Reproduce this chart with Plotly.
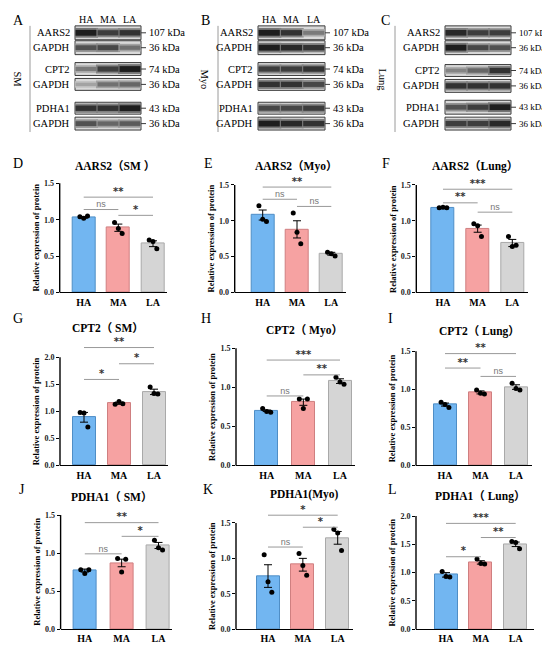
import plotly.graph_objects as go

W, H = 550, 645
FONT = "Liberation Serif, Noto Sans CJK SC"

groups = ["HA", "MA", "LA"]
bar_colors = ["#72b6f1", "#f6a2a2", "#d5d5d5"]
bar_edges = ["#4f8ec6", "#cf7f80", "#a9a9a9"]

# western blot rows and band intensities (0 = blank, 1 = very dark)
blot_rows = ["AARS2", "GAPDH", "CPT2", "GAPDH", "PDHA1", "GAPDH"]
blot_kda = ["107 kDa", "36 kDa", "74 kDa", "36 kDa", "43 kDa", "36 kDa"]
blot_sm = [[0.95, 0.80, 0.85], [0.70, 0.75, 0.55], [0.50, 0.80, 0.95],
           [0.30, 0.55, 0.60], [0.85, 0.85, 0.95], [0.70, 0.60, 0.65]]
blot_myo = [[0.95, 0.85, 0.50], [0.95, 0.90, 0.85], [0.80, 0.80, 0.85],
            [0.85, 0.85, 0.75], [0.75, 0.75, 0.80], [0.95, 0.90, 0.85]]
blot_lung = [[0.90, 0.80, 0.80], [0.95, 0.75, 0.70], [0.45, 0.60, 0.85],
             [0.85, 0.85, 0.85], [0.70, 0.80, 0.95], [0.80, 0.80, 0.90]]

# bar panels: means, SEM, individual points, significance brackets
aars2_sm_mean = [1.03, 0.89, 0.67]
aars2_sm_sem = [0.01, 0.05, 0.04]
aars2_sm_pts = [[1.04, 1.02, 1.05], [0.96, 0.88, 0.81], [0.72, 0.70, 0.60]]
aars2_sm_sig = [(0, 1, 1.14, "ns"), (1, 2, 1.06, "*"), (0, 2, 1.31, "**")]

aars2_myo_mean = [1.08, 0.88, 0.54]
aars2_myo_sem = [0.07, 0.12, 0.02]
aars2_myo_pts = [[1.21, 1.02, 0.99], [1.11, 0.84, 0.68], [0.56, 0.54, 0.51]]
aars2_myo_sig = [(0, 1, 1.30, "ns"), (1, 2, 1.20, "ns"), (0, 2, 1.47, "**")]

aars2_lung_mean = [1.18, 0.89, 0.69]
aars2_lung_sem = [0.01, 0.05, 0.05]
aars2_lung_pts = [[1.18, 1.19, 1.18], [0.96, 0.93, 0.78], [0.78, 0.64, 0.66]]
aars2_lung_sig = [(0, 1, 1.25, "**"), (1, 2, 1.12, "ns"), (0, 2, 1.44, "***")]

cpt2_sm_mean = [0.89, 1.15, 1.36]
cpt2_sm_sem = [0.09, 0.02, 0.05]
cpt2_sm_pts = [[0.98, 0.97, 0.71], [1.13, 1.18, 1.14], [1.45, 1.33, 1.32]]
cpt2_sm_sig = [(0, 1, 1.59, "*"), (1, 2, 1.88, "*"), (0, 2, 2.18, "**")]

cpt2_myo_mean = [0.70, 0.81, 1.08]
cpt2_myo_sem = [0.01, 0.04, 0.03]
cpt2_myo_pts = [[0.73, 0.69, 0.68], [0.85, 0.73, 0.85], [1.13, 1.07, 1.04]]
cpt2_myo_sig = [(0, 1, 0.89, "ns"), (1, 2, 1.16, "**"), (0, 2, 1.35, "***")]

cpt2_lung_mean = [0.80, 0.96, 1.03]
cpt2_lung_sem = [0.02, 0.02, 0.03]
cpt2_lung_pts = [[0.83, 0.80, 0.76], [0.99, 0.95, 0.94], [1.08, 1.01, 0.99]]
cpt2_lung_sig = [(0, 1, 1.28, "**"), (1, 2, 1.17, "ns"), (0, 2, 1.47, "**")]

pdha1_sm_mean = [0.77, 0.87, 1.10]
pdha1_sm_sem = [0.02, 0.05, 0.04]
pdha1_sm_pts = [[0.78, 0.73, 0.78], [0.93, 0.75, 0.92], [1.17, 1.07, 1.04]]
pdha1_sm_sig = [(0, 1, 0.99, "ns"), (1, 2, 1.22, "*"), (0, 2, 1.40, "**")]

pdha1_myo_mean = [0.75, 0.91, 1.29]
pdha1_myo_sem = [0.16, 0.09, 0.09]
pdha1_myo_pts = [[1.05, 0.67, 0.52], [1.07, 0.90, 0.76], [1.41, 1.36, 1.11]]
pdha1_myo_sig = [(0, 1, 1.16, "ns"), (1, 2, 1.44, "*"), (0, 2, 1.61, "*")]

pdha1_lung_mean = [0.96, 1.18, 1.50]
pdha1_lung_sem = [0.04, 0.03, 0.04]
pdha1_lung_pts = [[1.02, 0.93, 0.92], [1.24, 1.16, 1.15], [1.55, 1.53, 1.42]]
pdha1_lung_sig = [(0, 1, 1.28, "*"), (1, 2, 1.62, "**"), (0, 2, 1.87, "***")]


def px(p):
    return p / W


def py(p):
    return 1 - p / H


fig = go.Figure()
layout = {}
shapes = []
annots = []


def note(x, y, text, size, xanchor="center", yanchor="middle", angle=0, color="black"):
    annots.append(dict(x=px(x), y=py(y), xref="paper", yref="paper", text=text,
                       showarrow=False, xanchor=xanchor, yanchor=yanchor, textangle=angle,
                       font=dict(family=FONT, size=size, color=color)))


def grey(v):
    g = int(225 - 205 * v)
    return "rgb(%d,%d,%d)" % (g, g, g)


# ---- western blots ----
rows_ab = [(18, 32), (33, 47), (55, 68), (71, 83), (95, 107), (110, 123)]
rows_c = [(18, 32), (33, 47), (57, 69), (72, 85), (93, 107), (110, 123)]
blots = [
    # letter, tissue, data, box left/right, rows, letter x, tissue x, line x, lanes shown, kDa size
    ("A", "SM", blot_sm, 67, 133, rows_ab, 10, 10, 22, True, 10.5),
    ("B", "Myo", blot_myo, 250, 317, rows_ab, 197, 197, 210, True, 10.5),
    ("C", "Lung", blot_lung, 437, 503, rows_c, 377, 375, 387, False, 9),
]

for k, (letter, tissue, data, bl, br, rows, lx, tx, vx, lanes, ksz) in enumerate(blots):
    ax = 10 + k
    layout["xaxis%d" % ax] = dict(domain=[px(bl), px(br)], range=[-0.5, 2.5], visible=False,
                                  anchor="y%d" % ax, fixedrange=True)
    layout["yaxis%d" % ax] = dict(domain=[py(125), py(16)], range=[125, 16], visible=False,
                                  anchor="x%d" % ax, fixedrange=True)
    lane = (br - bl) / 3
    for r, (top, bot) in enumerate(rows):
        mid = (top + bot) / 2
        shapes.append(dict(type="rect", xref="paper", yref="paper", x0=px(bl), x1=px(br),
                           y0=py(bot), y1=py(top), fillcolor="#d9d9d9",
                           line=dict(color="#3c3c3c", width=1), layer="below"))
        shapes.append(dict(type="line", xref="paper", yref="paper", x0=px(br), x1=px(br + 5),
                           y0=py(mid), y1=py(mid), line=dict(color="#3c3c3c", width=1)))
        vals = data[r]
        # soft halo then core of each band
        halo = [grey(0.55 * v) for v in vals]
        core = [grey(v) for v in vals]
        fig.add_trace(go.Scatter(
            x=[0, 1, 2], y=[mid] * 3, mode="markers",
            marker=dict(symbol="line-ew", size=lane * 0.78, color=halo,
                        line=dict(color=halo, width=[5 + 5 * v for v in vals])),
            xaxis="x%d" % ax, yaxis="y%d" % ax, showlegend=False, hoverinfo="skip"))
        fig.add_trace(go.Scatter(
            x=[0, 1, 2], y=[mid] * 3, mode="markers",
            marker=dict(symbol="line-ew", size=lane * 0.68, color=core,
                        line=dict(color=core, width=[2 + 4 * v for v in vals])),
            xaxis="x%d" % ax, yaxis="y%d" % ax, showlegend=False, hoverinfo="skip"))
        note(bl - 3, mid, blot_rows[r], 10.5, xanchor="right")
        note(br + 6, mid, blot_kda[r], ksz, xanchor="left")
    note(lx, 13, letter, 14)
    shapes.append(dict(type="line", xref="paper", yref="paper", x0=px(vx), x1=px(vx),
                       y0=py(18), y1=py(125), line=dict(color="#9a9a9a", width=1)))
    note(tx, 72, tissue, 10.5, angle=90)
    if lanes:
        for i, g in enumerate(groups):
            note(bl + lane * (i + 0.5), 12, g, 10)

# ---- bar panels ----
panels = [
    # letter, title, mean, sem, pts, sig,
    # axis x, first/last bar centre, axis end, y0 px, top tick px, top tick, title x/y, letter x/y
    ("D", "AARS2（SM ）", aars2_sm_mean, aars2_sm_sem, aars2_sm_pts, aars2_sm_sig,
     51.7, 75.7, 145, 159, 286.7, 176.7, 1.5, 106.7, 159, 10, 156.7),
    ("E", "AARS2（Myo）", aars2_myo_mean, aars2_myo_sem, aars2_myo_pts, aars2_myo_sig,
     226.7, 254.7, 323.3, 338, 286.7, 178.3, 1.5, 288, 159, 200, 156.7),
    ("F", "AARS2（Lung）", aars2_lung_mean, aars2_lung_sem, aars2_lung_pts, aars2_lung_sig,
     408.3, 435, 504.3, 520, 286.7, 178.3, 1.5, 466.7, 159, 378.3, 156.7),
    ("G", "CPT2（ SM）", cpt2_sm_mean, cpt2_sm_sem, cpt2_sm_pts, cpt2_sm_sig,
     52, 76, 146, 160, 461, 352, 2.0, 100, 322, 10, 313),
    ("H", "CPT2（ Myo）", cpt2_myo_mean, cpt2_myo_sem, cpt2_myo_pts, cpt2_myo_sig,
     228, 258.7, 332, 347, 461, 343, 1.5, 296, 325, 198, 313),
    ("I", "CPT2（ Lung）", cpt2_lung_mean, cpt2_lung_sem, cpt2_lung_pts, cpt2_lung_sig,
     408, 437, 508, 524, 461, 346, 1.5, 471, 326, 382, 313),
    ("J", "PDHA1（ SM）", pdha1_sm_mean, pdha1_sm_sem, pdha1_sm_pts, pdha1_sm_sig,
     52.6, 76.8, 150.5, 164, 626, 511, 1.5, 103.5, 492, 14, 485),
    ("K", "PDHA1(Myo)", pdha1_myo_mean, pdha1_myo_sem, pdha1_myo_pts, pdha1_myo_sig,
     228, 260, 329.7, 345, 626, 519, 1.5, 296, 490, 200, 485),
    ("L", "PDHA1（ Lung）", pdha1_lung_mean, pdha1_lung_sem, pdha1_lung_pts, pdha1_lung_sig,
     408, 438, 507.7, 526, 626, 512, 2.0, 471.8, 492, 384, 485),
]

offsets = [-0.11, 0.0, 0.11]

for n, (letter, title, mean, sem, pts, sig, xl, c0, c2, xr, y0, ytp, tmax,
        tx, ty, lx, ly) in enumerate(panels):
    i = n + 1
    xa, ya = ("x", "y") if i == 1 else ("x%d" % i, "y%d" % i)
    sp = (c2 - c0) / 2
    scale = (y0 - ytp) / tmax
    top = max(tmax, max(s[2] for s in sig) + 0.3 * tmax)
    layout["xaxis" if i == 1 else "xaxis%d" % i] = dict(
        domain=[px(xl), px(xr)], range=[-(c0 - xl) / sp, 2 + (xr - c2) / sp],
        anchor=ya, tickvals=[0, 1, 2], ticktext=groups,
        showline=True, linecolor="black", linewidth=1.4, ticks="", showgrid=False,
        zeroline=False, tickfont=dict(family=FONT, size=10, color="black", weight="bold"),
        fixedrange=True)
    layout["yaxis" if i == 1 else "yaxis%d" % i] = dict(
        domain=[py(y0), min(1, py(y0 - top * scale))], range=[0, top], anchor=xa,
        tickvals=[v * 0.5 for v in range(int(round(tmax / 0.5)) + 1)], tickformat=".1f",
        ticks="outside", ticklen=3, tickwidth=1.2, tickcolor="black", showline=False,
        showgrid=False, zeroline=False,
        tickfont=dict(family=FONT, size=8, color="#222", weight="bold"), fixedrange=True)
    shapes.append(dict(type="line", xref="paper", yref="paper", x0=px(xl), x1=px(xl),
                       y0=py(y0), y1=py(ytp), line=dict(color="black", width=1.4)))

    fig.add_trace(go.Bar(
        x=[0, 1, 2], y=mean, width=23 / sp,
        marker=dict(color=bar_colors, line=dict(color=bar_edges, width=1)),
        error_y=dict(type="data", array=sem, color="black", thickness=1, width=4),
        xaxis=xa, yaxis=ya, showlegend=False, hoverinfo="skip"))
    for g in range(3):
        fig.add_trace(go.Scatter(
            x=[g + o for o in offsets], y=pts[g], mode="markers",
            marker=dict(color="black", size=5), xaxis=xa, yaxis=ya,
            showlegend=False, hoverinfo="skip", cliponaxis=False))
    for a, b, h, lab in sig:
        fig.add_trace(go.Scatter(
            x=[a, b], y=[h, h], mode="lines", line=dict(color="#999999", width=1),
            xaxis=xa, yaxis=ya, showlegend=False, hoverinfo="skip"))
        star = lab != "ns"
        fig.add_trace(go.Scatter(
            x=[(a + b) / 2], y=[h], mode="text", text=[lab],
            textposition="top center",
            textfont=dict(family="DejaVu Sans" if star else "Liberation Sans",
                          size=10 if star else 9, color="#333333" if star else "#777777",
                          weight="bold" if star else "normal"),
            xaxis=xa, yaxis=ya, showlegend=False, hoverinfo="skip", cliponaxis=False))

    note(lx, ly, letter, 14)
    note(tx, ty, "<b>" + title + "</b>", 11.5)
    note(xl - 24, (y0 + ytp) / 2, "<b>Relative expression of protein</b>", 8.5, angle=-90)

fig.update_layout(
    width=W, height=H, margin=dict(l=0, r=0, t=0, b=0),
    paper_bgcolor="white", plot_bgcolor="rgba(0,0,0,0)",
    shapes=shapes, annotations=annots, showlegend=False, bargap=0,
    **layout)

fig.write_html("out.html")
